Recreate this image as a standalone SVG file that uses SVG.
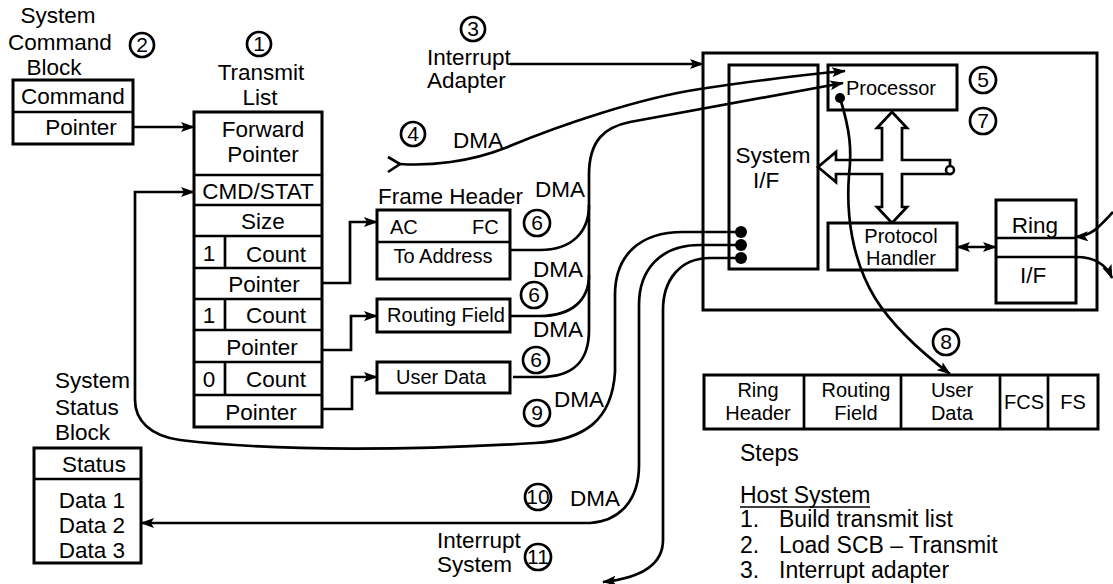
<svg xmlns="http://www.w3.org/2000/svg" width="1113" height="584" viewBox="0 0 1113 584">
<style>
text { font-family: "Liberation Sans", Arial, sans-serif; font-size: 22.5px; fill: #000; }
.s { font-size: 20px; }
.n { font-size: 21px; }
.st { font-size: 23px; }
.m { text-anchor: middle; }
.box { fill: #fff; stroke: #000; stroke-width: 3; }
.ln { fill: none; stroke: #000; stroke-width: 2.7; }
.num { fill: #fff; stroke: #000; stroke-width: 2.7; }
.arr { marker-end: url(#ah); }
</style>
<defs>
<marker id="ah" viewBox="0 0 14 10" refX="13" refY="5" markerWidth="14" markerHeight="10" markerUnits="userSpaceOnUse" orient="auto-start-reverse">
<path d="M0,0 L14,5 L0,10 L3,5 Z" fill="#000"/>
</marker>
</defs>
<rect width="1113" height="584" fill="#fff"/>

<g id="scb">
<text class="m" x="58" y="23">System</text>
<text class="m" x="60" y="50">Command</text>
<text class="m" x="54" y="75">Block</text>
<circle class="num" cx="142" cy="45" r="12"/><text class="m n" x="142" y="52">2</text>
<rect class="box" x="13" y="80" width="120" height="64"/>
<line class="ln" x1="13" y1="112" x2="133" y2="112" stroke-width="3"/>
<text class="m" x="73" y="104">Command</text>
<text class="m" x="81" y="135">Pointer</text>
</g>

<g id="transmit-list">
<circle class="num" cx="259" cy="44" r="12"/><text class="m n" x="259" y="51">1</text>
<text class="m" x="261" y="80">Transmit</text>
<text class="m" x="260" y="105">List</text>
<rect class="box" x="194" y="112" width="128" height="315"/>
<g class="ln" stroke-width="3">
<line x1="194" y1="175" x2="322" y2="175"/>
<line x1="194" y1="205" x2="322" y2="205"/>
<line x1="194" y1="236" x2="322" y2="236"/>
<line x1="194" y1="268" x2="322" y2="268"/>
<line x1="194" y1="299" x2="322" y2="299"/>
<line x1="194" y1="330" x2="322" y2="330"/>
<line x1="194" y1="362" x2="322" y2="362"/>
<line x1="194" y1="395" x2="322" y2="395"/>
<line x1="225" y1="236" x2="225" y2="268"/>
<line x1="225" y1="299" x2="225" y2="330"/>
<line x1="225" y1="362" x2="225" y2="395"/>
</g>
<text class="m" x="263" y="137">Forward</text>
<text class="m" x="263" y="162">Pointer</text>
<text class="m" x="258" y="199">CMD/STAT</text>
<text class="m" x="263" y="229">Size</text>
<text class="m" x="209" y="261">1</text><text class="m" x="276" y="262">Count</text>
<text class="m" x="264" y="292">Pointer</text>
<text class="m" x="209" y="323">1</text><text class="m" x="276" y="323">Count</text>
<text class="m" x="262" y="355">Pointer</text>
<text class="m" x="209" y="387">0</text><text class="m" x="276" y="387">Count</text>
<text class="m" x="261" y="420">Pointer</text>
</g>

<g id="interrupt-adapter">
<circle class="num" cx="473" cy="29" r="12"/><text class="m n" x="473" y="36">3</text>
<text x="427" y="65">Interrupt</text>
<text x="427" y="88">Adapter</text>
</g>

<g id="step4">
<circle class="num" cx="413" cy="134" r="12"/><text class="m n" x="413" y="141">4</text>
<text x="453" y="148">DMA</text>
</g>

<g id="frame-header">
<text x="378" y="204">Frame Header</text>
<rect class="box" x="377" y="210" width="133" height="69"/>
<line class="ln" x1="377" y1="242" x2="510" y2="242" stroke-width="3"/>
<text class="s" x="390" y="234">AC</text>
<text class="s" x="472" y="234">FC</text>
<text class="m s" x="443" y="263">To Address</text>
<text x="535" y="197">DMA</text>
<circle class="num" cx="537" cy="223" r="13"/><text class="m n" x="537" y="230">6</text>
</g>

<g id="routing-field">
<rect class="box" x="377" y="299" width="133" height="33"/>
<text class="m s" x="446" y="322">Routing Field</text>
<text x="533" y="277">DMA</text>
<circle class="num" cx="534" cy="295" r="13"/><text class="m n" x="534" y="302">6</text>
</g>

<g id="user-data">
<rect class="box" x="377" y="362" width="133" height="31"/>
<text class="m s" x="441" y="384">User Data</text>
<text x="533" y="337">DMA</text>
<circle class="num" cx="536" cy="360" r="13"/><text class="m n" x="536" y="367">6</text>
</g>

<g id="status-block">
<text x="55" y="388">System</text>
<text x="55" y="415">Status</text>
<text x="55" y="440">Block</text>
<rect class="box" x="34" y="448" width="107" height="115"/>
<line class="ln" x1="34" y1="479" x2="141" y2="479" stroke-width="3"/>
<text class="m" x="94" y="472">Status</text>
<text class="m" x="92" y="508">Data 1</text>
<text class="m" x="92" y="533">Data 2</text>
<text class="m" x="92" y="558">Data 3</text>
</g>

<g id="step-labels">
<circle class="num" cx="537" cy="413" r="13"/><text class="m n" x="537" y="420">9</text>
<text x="554" y="407">DMA</text>
<circle class="num" cx="538" cy="497" r="13"/><text class="m n" x="538" y="504">10</text>
<text x="570" y="506">DMA</text>
<circle class="num" cx="538" cy="557" r="13"/><text class="m n" x="538" y="564">11</text>
<text x="437" y="548">Interrupt</text>
<text x="437" y="572">System</text>
</g>

<g id="adapter">
<rect class="box" x="703" y="53" width="394" height="257"/>
</g>
<g id="system-if">
<rect class="box" x="729" y="65" width="89" height="204"/>
<text class="m" x="773" y="163">System</text>
<text class="m" x="766" y="188">I/F</text>
</g>
<g id="processor">
<rect class="box" x="828" y="65" width="129" height="45"/>
<text class="m s" x="891" y="95">Processor</text>
<circle class="num" cx="983" cy="80" r="13"/><text class="m n" x="983" y="87">5</text>
<circle class="num" cx="983" cy="121" r="13"/><text class="m n" x="983" y="128">7</text>
</g>
<g id="bus">
<path class="ln" stroke-linejoin="miter" d="M892,112 L907,128 L902,128 L902,160 L950,160 L950,174 L902,174 L902,207 L907,207 L892,223 L877,207 L882,207 L882,174 L836,174 L836,182 L818,167 L836,152 L836,160 L882,160 L882,128 L877,128 Z" style="fill:#fff"/>
<circle cx="950" cy="170" r="4" fill="#fff" stroke="#000" stroke-width="2.5"/>
</g>
<g id="protocol-handler">
<rect class="box" x="828" y="223" width="129" height="47"/>
<text class="m s" x="901" y="243">Protocol</text>
<text class="m s" x="901" y="265">Handler</text>
</g>
<g id="ring-if">
<rect class="box" x="996" y="200" width="80" height="103"/>
<line class="ln" x1="996" y1="238" x2="1076" y2="238" stroke-width="3"/>
<line class="ln" x1="996" y1="257" x2="1076" y2="257" stroke-width="3"/>
<text class="m" x="1035" y="233">Ring</text>
<text class="m" x="1033" y="283">I/F</text>
</g>

<g id="frame-format">
<circle class="num" cx="946" cy="342" r="13"/><text class="m n" x="946" y="349">8</text>
<rect class="box" x="704" y="375" width="394" height="54"/>
<g class="ln" stroke-width="3">
<line x1="804" y1="375" x2="804" y2="429"/>
<line x1="901" y1="375" x2="901" y2="429"/>
<line x1="1000" y1="375" x2="1000" y2="429"/>
<line x1="1048" y1="375" x2="1048" y2="429"/>
</g>
<text class="m s" x="758" y="397">Ring</text>
<text class="m s" x="758" y="420">Header</text>
<text class="m s" x="856" y="397">Routing</text>
<text class="m s" x="856" y="420">Field</text>
<text class="m s" x="952" y="397">User</text>
<text class="m s" x="952" y="420">Data</text>
<text class="m s" x="1024" y="409">FCS</text>
<text class="m s" x="1073" y="409">FS</text>
</g>

<g id="steps">
<text class="st" x="740" y="461">Steps</text>
<text class="st" x="740" y="503">Host System</text>
<line x1="740" y1="507" x2="870" y2="507" stroke="#000" stroke-width="1.5"/>
<text class="st" x="740" y="527">1.</text><text class="st" x="779" y="527">Build transmit list</text>
<text class="st" x="740" y="553">2.</text><text class="st" x="779" y="553">Load SCB – Transmit</text>
<text class="st" x="740" y="578">3.</text><text class="st" x="779" y="578">Interrupt adapter</text>
</g>

<g id="connectors">
<path class="ln arr" d="M133,127 L194,127"/>
<path class="ln arr" d="M740,232 L683,232 C640,232 615,255 615,295 L615,372 C612,420 585,440 535,443 C420,450 280,452 180,440 C150,436 135,420 135,400 L135,192 L194,192"/>
<path class="ln arr" d="M322,283 L350,283 L350,222 L377,222"/>
<path class="ln arr" d="M322,350 L351,350 L351,316 L377,316"/>
<path class="ln arr" d="M322,409 L352,409 L352,377 L377,377"/>
<path class="ln arr" d="M510,64 L703,64"/>
<path class="ln arr" d="M400,164 C430,166 470,162 505,148 C560,125 640,98 700,89 C760,80 800,75 845,71"/>
<path class="ln" d="M388,157 L400,164 L388,172"/>
<path class="ln arr" d="M513,377 L540,377 C575,377 589,360 589,330 L589,175 C589,140 605,127 630,122 L843,83"/>
<path class="ln" d="M510,250 L540,250 C572,250 589,232 589,205"/>
<path class="ln" d="M510,316 L540,316 C572,316 589,300 589,275"/>
<path class="ln arr" d="M740,245 L700,245 C660,245 639,270 639,305 L639,465 C639,500 620,521 590,523 L141,523"/>
<path class="ln arr" d="M740,258 L710,258 C680,258 663,280 663,310 L663,540 C663,565 640,578 603,582"/>
<circle cx="741" cy="232" r="6"/>
<circle cx="741" cy="245" r="6"/>
<circle cx="741" cy="258" r="6"/>
<path class="ln arr" d="M840,98 C850,130 852,150 849,175 C846,215 852,260 875,298 C895,330 925,355 950,374"/>
<circle cx="840" cy="98" r="5"/>
<path class="ln arr" style="marker-start:url(#ah)" d="M957,247 L996,247"/>
<path class="ln arr" d="M1113,212 C1100,226 1092,236 1075,237"/>
<path class="ln arr" d="M1076,257 C1095,257 1106,264 1112,278"/>
</g>
</svg>
